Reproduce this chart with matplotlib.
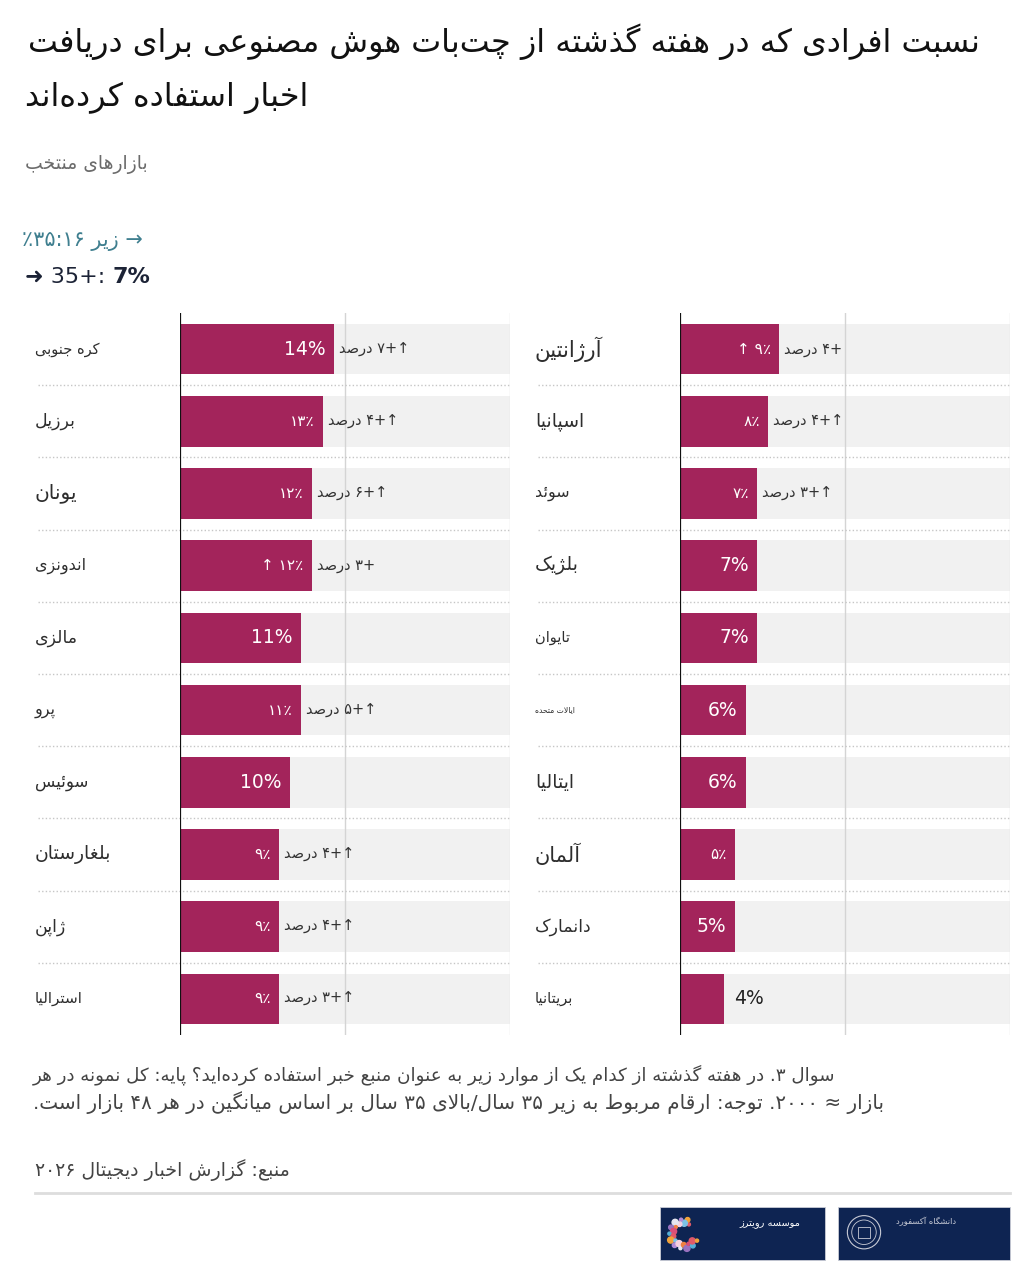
import numpy as np
import matplotlib
matplotlib.use('Agg')
import matplotlib.pyplot as plt
from matplotlib.patches import Rectangle, Circle
from matplotlib.transforms import blended_transform_factory

plt.rcParams['font.family'] = ['DejaVu Sans']

# ---------------- data ----------------
title_lines = ['نسبت افرادی که در هفته گذشته از چت‌بات هوش مصنوعی برای دریافت',
               'اخبار استفاده کرده‌اند']
subtitle = 'بازارهای منتخب'
legend_under = '→ زیر ۳۵:۱۶'
legend_over = '➜ 35+: '
legend_over_value = '7%'

left_countries = ['کره جنوبی', 'برزیل', 'یونان', 'اندونزی', 'مالزی',
                  'پرو', 'سوئیس', 'بلغارستان', 'ژاپن', 'استرالیا']
left_values = [14, 13, 12, 12, 11, 11, 10, 9, 9, 9]
left_value_labels = ['14%', '۱۳٪', '۱۲٪', '↑ ۱۲٪', '11%', '۱۱٪', '10%', '۹٪', '۹٪', '۹٪']
left_changes = ['↑+۷ درصد', '↑+۴ درصد', '↑+۶ درصد', '+۳ درصد', '',
                '↑+۵ درصد', '', '↑+۴ درصد', '↑+۴ درصد', '↑+۳ درصد']

right_countries = ['آرژانتین', 'اسپانیا', 'سوئد', 'بلژیک', 'تایوان',
                   'ایالات متحده', 'ایتالیا', 'آلمان', 'دانمارک', 'بریتانیا']
right_values = [9, 8, 7, 7, 7, 6, 6, 5, 5, 4]
right_value_labels = ['↑ ۹٪', '۸٪', '۷٪', '7%', '7%', '6%', '6%', '۵٪', '5%', '4%']
right_changes = ['+۴ درصد', '↑+۴ درصد', '↑+۳ درصد', '', '', '', '', '', '', '']

note_lines = ['سوال ۳. در هفته گذشته از کدام یک از موارد زیر به عنوان منبع خبر استفاده کرده‌اید؟ پایه: کل نمونه در هر',
              'بازار ≈ ۲۰۰۰. توجه: ارقام مربوط به زیر ۳۵ سال/بالای ۳۵ سال بر اساس میانگین در هر ۴۸ بازار است.']
source = 'منبع: گزارش اخبار دیجیتال ۲۰۲۶'
logo_texts = ['موسسه رویترز', 'دانشگاه آکسفورد']

# label font sizes (the source uses uneven sizes)
left_label_sizes = [10.5, 12.5, 14.5, 11.5, 12.5, 11.5, 12, 13.5, 12.5, 11]
right_label_sizes = [15.5, 13.5, 11.5, 13.5, 10.5, 5.5, 13.5, 15, 12.5, 10.5]

# ---------------- persian shaping / bidi ----------------
FORMS = {
    '\u0621': ('\uFE80', None, None, None),
    '\u0622': ('\uFE81', '\uFE82', None, None),
    '\u0623': ('\uFE83', '\uFE84', None, None),
    '\u0626': ('\uFE89', '\uFE8A', '\uFE8B', '\uFE8C'),
    '\u0627': ('\uFE8D', '\uFE8E', None, None),
    '\u0628': ('\uFE8F', '\uFE90', '\uFE91', '\uFE92'),
    '\u062A': ('\uFE95', '\uFE96', '\uFE97', '\uFE98'),
    '\u062B': ('\uFE99', '\uFE9A', '\uFE9B', '\uFE9C'),
    '\u062C': ('\uFE9D', '\uFE9E', '\uFE9F', '\uFEA0'),
    '\u062D': ('\uFEA1', '\uFEA2', '\uFEA3', '\uFEA4'),
    '\u062E': ('\uFEA5', '\uFEA6', '\uFEA7', '\uFEA8'),
    '\u062F': ('\uFEA9', '\uFEAA', None, None),
    '\u0630': ('\uFEAB', '\uFEAC', None, None),
    '\u0631': ('\uFEAD', '\uFEAE', None, None),
    '\u0632': ('\uFEAF', '\uFEB0', None, None),
    '\u0633': ('\uFEB1', '\uFEB2', '\uFEB3', '\uFEB4'),
    '\u0634': ('\uFEB5', '\uFEB6', '\uFEB7', '\uFEB8'),
    '\u0635': ('\uFEB9', '\uFEBA', '\uFEBB', '\uFEBC'),
    '\u0636': ('\uFEBD', '\uFEBE', '\uFEBF', '\uFEC0'),
    '\u0637': ('\uFEC1', '\uFEC2', '\uFEC3', '\uFEC4'),
    '\u0638': ('\uFEC5', '\uFEC6', '\uFEC7', '\uFEC8'),
    '\u0639': ('\uFEC9', '\uFECA', '\uFECB', '\uFECC'),
    '\u063A': ('\uFECD', '\uFECE', '\uFECF', '\uFED0'),
    '\u0641': ('\uFED1', '\uFED2', '\uFED3', '\uFED4'),
    '\u0642': ('\uFED5', '\uFED6', '\uFED7', '\uFED8'),
    '\u0643': ('\uFED9', '\uFEDA', '\uFEDB', '\uFEDC'),
    '\u0644': ('\uFEDD', '\uFEDE', '\uFEDF', '\uFEE0'),
    '\u0645': ('\uFEE1', '\uFEE2', '\uFEE3', '\uFEE4'),
    '\u0646': ('\uFEE5', '\uFEE6', '\uFEE7', '\uFEE8'),
    '\u0647': ('\uFEE9', '\uFEEA', '\uFEEB', '\uFEEC'),
    '\u0648': ('\uFEED', '\uFEEE', None, None),
    '\u0649': ('\uFEEF', '\uFEF0', None, None),
    '\u064A': ('\uFEF1', '\uFEF2', '\uFEF3', '\uFEF4'),
    '\u067E': ('\uFB56', '\uFB57', '\uFB58', '\uFB59'),
    '\u0686': ('\uFB7A', '\uFB7B', '\uFB7C', '\uFB7D'),
    '\u0698': ('\uFB8A', '\uFB8B', None, None),
    '\u06A9': ('\uFB8E', '\uFB8F', '\uFB90', '\uFB91'),
    '\u06AF': ('\uFB92', '\uFB93', '\uFB94', '\uFB95'),
    '\u06CC': ('\uFBFC', '\uFBFD', '\uFBFE', '\uFBFF'),
}
LAM_ALEF = {'\u0627': ('\uFEFB', '\uFEFC'), '\u0622': ('\uFEF5', '\uFEF6'),
            '\u0623': ('\uFEF7', '\uFEF8')}


def _dual(c):
    return c in FORMS and FORMS[c][2] is not None


def shape(s):
    out = []
    i = 0
    while i < len(s):
        c = s[i]
        if c not in FORMS:
            out.append(c)
            i += 1
            continue
        link_prev = i > 0 and _dual(s[i - 1])
        if c == '\u0644' and i + 1 < len(s) and s[i + 1] in LAM_ALEF:
            out.append(LAM_ALEF[s[i + 1]][1 if link_prev else 0])
            i += 2
            continue
        nxt = s[i + 1] if i + 1 < len(s) else ''
        link_next = _dual(c) and nxt in FORMS and nxt != '\u0621'
        f = FORMS[c]
        if link_prev and link_next:
            out.append(f[3])
        elif link_prev:
            out.append(f[1])
        elif link_next:
            out.append(f[2])
        else:
            out.append(f[0])
        i += 1
    return ''.join(ch for ch in out if ch != '\u200c')


def _btype(c):
    o = ord(c)
    if c.isascii() and c.isdigit() or 0x06F0 <= o <= 0x06F9 or 0x0660 <= o <= 0x0669:
        return 'EN'
    if c in '%\u066A':
        return 'ET'
    if c in '.,:/':
        return 'CS'
    if c in '+-':
        return 'ES'
    if c.isascii() and c.isalpha():
        return 'L'
    if 0x0600 <= o <= 0x06FF or 0xFB50 <= o <= 0xFEFC:
        return 'R'
    return 'N'


def fa(s):
    s = shape(s)
    t = [_btype(c) for c in s]
    n = len(t)
    # percent signs next to numbers
    for i in range(n):
        if t[i] == 'ET' and ((i > 0 and t[i - 1] == 'EN') or (i + 1 < n and t[i + 1] == 'EN')):
            t[i] = 'EN'
    for i in range(1, n - 1):
        if t[i] in ('CS', 'ES') and t[i - 1] == 'EN' and t[i + 1] == 'EN':
            t[i] = 'EN'
    t = ['N' if x in ('ET', 'CS', 'ES') else x for x in t]
    # neutrals
    i = 0
    while i < n:
        if t[i] != 'N':
            i += 1
            continue
        j = i
        while j < n and t[j] == 'N':
            j += 1
        before = 'R' if i == 0 or t[i - 1] in ('R', 'EN') else 'L'
        after = 'R' if j == n or t[j] in ('R', 'EN') else 'L'
        d = 'L' if before == after == 'L' else 'R'
        for k in range(i, j):
            t[k] = d
        i = j
    lev = [2 if x in ('L', 'EN') else 1 for x in t]
    chars = list(s)[::-1]
    lev = lev[::-1]
    out = []
    i = 0
    while i < n:
        j = i
        while j < n and lev[j] == lev[i]:
            j += 1
        seg = chars[i:j]
        out.extend(seg[::-1] if lev[i] == 2 else seg)
        i = j
    return ''.join(out)


# ---------------- figure ----------------
W, H = 1036, 1280
fig = plt.figure(figsize=(W / 100, H / 100), dpi=100)
fig.patch.set_facecolor('white')
renderer = fig.canvas.get_renderer()

BAR = '#a3245b'
BAND = '#f1f1f1'
TEXT = '#2e2e2e'


def fx(x):
    return x / W


def fy(y):
    return 1 - y / H


def fit(txt, width_px):
    w = txt.get_window_extent(renderer).width
    txt.set_fontsize(txt.get_fontsize() * width_px / w)
    return txt.get_fontsize()


# title
t1 = fig.text(fx(28), fy(42), fa(title_lines[0]), fontsize=20, color='#111111',
              ha='left', va='center')
size = fit(t1, 950)
fig.text(fx(25), fy(98), fa(title_lines[1]), fontsize=size, color='#111111',
         ha='left', va='center')

st = fig.text(fx(25), fy(165), fa(subtitle), fontsize=11, color='#6b6b6b',
              ha='left', va='center')
fit(st, 122)

# legend
lg = fig.text(fx(22), fy(241), '\u066A' + fa(legend_under), fontsize=12, color='#3f7f8f',
              ha='left', va='center')
fit(lg, 121)
lt = fig.text(fx(25), fy(277), legend_over, fontsize=16, color='#1c2336',
              ha='left', va='center')
ext = lt.get_window_extent(renderer)
fig.text(ext.x1 / W, fy(277), legend_over_value, fontsize=16, color='#1c2336',
         fontweight='bold', ha='left', va='center')


def panel(left_px, countries, values, value_labels, changes, label_sizes):
    ax = fig.add_axes([fx(left_px), fy(1035), 330 / W, 722 / H])
    y = np.arange(len(countries))
    ax.set_xlim(0, 30)
    ax.set_ylim(len(countries) - 0.5, -0.5)
    ax.axis('off')
    ax.barh(y, [30] * len(y), height=0.7, color=BAND, zorder=1)
    ax.axvline(15, color='#d4d4d4', lw=1, zorder=2)
    ax.axvline(30, color='#e2e2e2', lw=1, zorder=2)
    ax.barh(y, values, height=0.7, color=BAR, zorder=3)
    ax.axvline(0, color='#111111', lw=1.6, zorder=4)
    tr = blended_transform_factory(ax.transAxes, ax.transData)
    for k in range(len(y) - 1):
        ax.plot([-0.43, 1.0], [k + 0.5, k + 0.5], transform=tr, ls=(0, (1, 1.6)),
                color='#c6c6c6', lw=1, clip_on=False, zorder=2)
    for i, name in enumerate(countries):
        ax.text(-0.44, i, fa(name), transform=tr, ha='left', va='center',
                fontsize=label_sizes[i], color=TEXT)
        lab = value_labels[i]
        big = lab.isascii()
        if values[i] < 5:
            ax.annotate(lab, (values[i], i), xytext=(7, 0), textcoords='offset points',
                        ha='left', va='center', fontsize=13.5, color='#222222', zorder=5)
        else:
            ax.annotate(lab, (values[i], i), xytext=(-6, 0), textcoords='offset points',
                        ha='right', va='center', fontsize=13.5 if big else 11,
                        color='white', zorder=5)
        if changes[i]:
            ax.annotate(fa(changes[i]), (values[i], i), xytext=(3.5, 0),
                        textcoords='offset points', ha='left', va='center',
                        fontsize=10.5, color='#333333', zorder=5)
    return ax


panel(180, left_countries, left_values, left_value_labels, left_changes, left_label_sizes)
panel(680, right_countries, right_values, right_value_labels, right_changes, right_label_sizes)

# notes
n1 = fig.text(fx(33), fy(1075), fa(note_lines[0]), fontsize=12, color='#444444',
              ha='left', va='center')
fit(n1, 800)
n2 = fig.text(fx(33), fy(1103), fa(note_lines[1]), fontsize=12, color='#444444',
              ha='left', va='center')
fit(n2, 847)
s1 = fig.text(fx(35), fy(1170), fa(source), fontsize=12, color='#444444',
              ha='left', va='center')
fit(s1, 253)
fig.add_artist(plt.Line2D([fx(35), fx(1010)], [fy(1193), fy(1193)], color='#dddddd',
                          lw=2, transform=fig.transFigure))

# logos
NAVY = '#0e2452'
for x0, w in [(660, 165), (838, 172)]:
    fig.add_artist(Rectangle((fx(x0), fy(1260)), w / W, 53 / H, transform=fig.transFigure,
                             facecolor=NAVY, edgecolor='#c9ccd6', lw=0.6, zorder=-1))
fig.text(fx(800), fy(1224), fa(logo_texts[0]), fontsize=7, color='white',
         ha='right', va='center')
fig.text(fx(956), fy(1221), fa(logo_texts[1]), fontsize=6, color='#c8cbd6',
         ha='right', va='center')

# reuters dots
lax = fig.add_axes([fx(664), fy(1258), 40 / W, 48 / H])
lax.set_xlim(-1.3, 1.3)
lax.set_ylim(-1.3, 1.3)
lax.set_aspect('equal')
lax.axis('off')
lax.set_zorder(3)
ang = np.linspace(0.35 * np.pi, 1.85 * np.pi, 22)
dot_cols = ['#e05a6a', '#f2a33a', '#7cc3e6', '#b28ad6', '#f7d0e0', '#e6e6f0', '#f08040',
            '#9a72c0', '#d94f7a', '#55b0d8']
for k, a in enumerate(ang):
    r = 0.95 if k % 2 else 0.7
    lax.add_patch(Circle((r * np.cos(a), r * np.sin(a)), 0.1 + 0.05 * (k % 3),
                         color=dot_cols[k % len(dot_cols)]))

# oxford crest
oax = fig.add_axes([fx(843), fy(1258), 42 / W, 48 / H])
oax.set_xlim(-1.2, 1.2)
oax.set_ylim(-1.3, 1.3)
oax.set_aspect('equal')
oax.axis('off')
oax.set_zorder(3)
oax.add_patch(Circle((0, 0.1), 0.95, fill=False, ec='#c8cbd6', lw=0.8))
oax.add_patch(Circle((0, 0.1), 0.7, fill=False, ec='#c8cbd6', lw=0.6))
oax.add_patch(Rectangle((-0.35, -0.25), 0.7, 0.65, fill=False, ec='#c8cbd6', lw=0.6))

fig.savefig('out.png', dpi=100, facecolor='white')
